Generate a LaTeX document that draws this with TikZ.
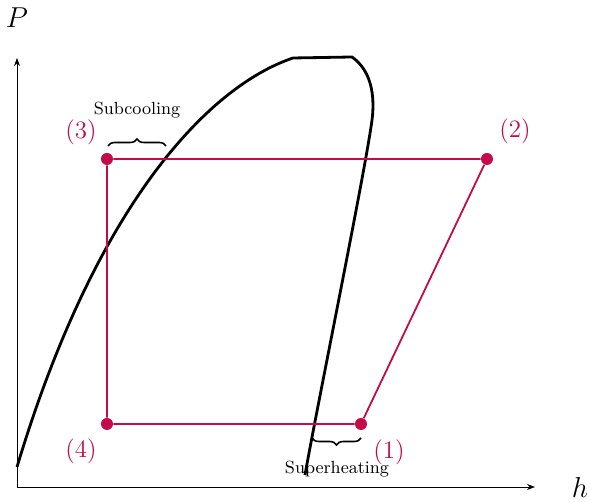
\documentclass[tikz,border=0pt]{standalone}
\usepackage{tikz}
\usetikzlibrary{positioning,arrows.meta,decorations.pathreplacing}

\definecolor{cyclered}{RGB}{196,10,72}

\begin{document}
\begin{tikzpicture}[
    x=0.5pt, y=0.5pt,
    % cycle markers and lines
    statept/.style={circle, fill=cyclered, minimum size=6pt, inner sep=0pt},
    statelabel/.style={text=cyclered, font=\fontsize{12.5}{14}\selectfont},
    cycleline/.style={cyclered, line width=0.9pt},
    dome/.style={black, line width=1.4pt},
    axis/.style={thin, -{Stealth[length=4pt,width=3pt]}},
    note/.style={font=\fontsize{8.8}{10}\selectfont},
    bracedeco/.style={thick, decorate, decoration={brace, amplitude=3.5pt}}
]
\useasboundingbox (-17,-15) rectangle (574,487);

% Axes
\coordinate (o) at (0,0);
\coordinate (xend) at (518,0);
\coordinate (yend) at (0,429);
\draw[axis] (o) -- (xend);
\draw[axis] (o) -- (yend);
\node[font=\fontsize{13.5}{15}\selectfont] (plabel) at (0,469) {$P$};
\node[font=\fontsize{13.5}{15}\selectfont] (hlabel) at (563,-1) {$h$};

% Saturation dome
\draw[dome] (0,20) .. controls (78,280) and (190,400) .. (276,429)
    -- (335,430) .. controls (352,418) and (360,395) .. (354,360)
    .. controls (345,300) and (300,80) .. (288,12);

% Cycle states
\node[statept] (s1) at (344,63) {};
\node[statept] (s2) at (470,328) {};
\node[statept] (s3) at (90,328) {};
\node[statept] (s4) at (90,63) {};

\draw[cycleline] (s1) -- (s2) -- (s3) -- (s4) -- (s1);

\node[statelabel] (l1) at (372,35) {(1)};
\node[statelabel] (l2) at (498,356) {(2)};
\node[statelabel] (l3) at (64,355) {(3)};
\node[statelabel] (l4) at (64,36) {(4)};

% Subcooling / superheating braces
\coordinate (sc1) at (91,341);
\coordinate (sc2) at (149,341);
\draw[bracedeco] (sc1) -- (sc2);
\node[note] (subcool) at (120,377) {Subcooling};

\coordinate (sh1) at (344,49);
\coordinate (sh2) at (295,49);
\draw[bracedeco] (sh1) -- (sh2);
\node[note] (superheat) at (320,18) {Superheating};

\end{tikzpicture}
\end{document}
